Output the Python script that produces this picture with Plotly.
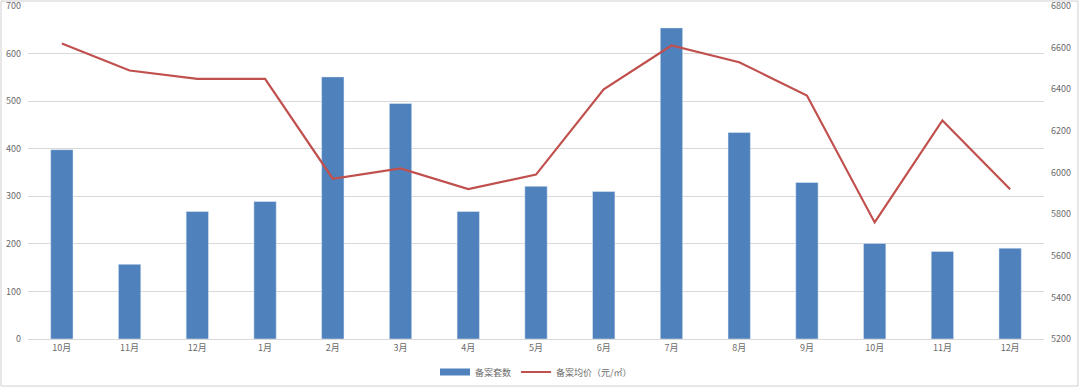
import plotly.graph_objects as go

months = ["10月", "11月", "12月", "1月", "2月", "3月", "4月", "5月", "6月", "7月", "8月", "9月", "10月", "11月", "12月"]
units = [398, 157, 268, 289, 551, 495, 268, 321, 310, 654, 434, 329, 201, 184, 191]
avg_price = [6620, 6490, 6450, 6450, 5970, 6020, 5920, 5990, 6400, 6610, 6530, 6370, 5760, 6250, 5920]

xs = list(range(len(months)))
font = dict(family="Noto Sans CJK SC, Liberation Sans, sans-serif", size=9, color="#6b6b6b")

fig = go.Figure()
fig.add_trace(go.Bar(x=xs, y=units, name="备案套数", marker_color="#4f81bd", width=0.33, showlegend=False))
fig.add_trace(go.Scatter(x=[None], y=[None], name="备案套数", mode="lines",
                         line=dict(color="#4f81bd", width=7)))
fig.add_trace(go.Scatter(x=xs, y=avg_price, name="备案均价（元/㎡）", yaxis="y2", mode="lines",
                         line=dict(color="#c0504d", width=2.2)))

W, H = 1080, 388
ml, mr, mt, mb = 28, 36, 6, 49
pw, ph = W - ml - mr, H - mt - mb

fig.update_layout(
    width=W, height=H,
    margin=dict(l=ml, r=mr, t=mt, b=mb, autoexpand=False),
    paper_bgcolor="white", plot_bgcolor="white",
    font=font,
    showlegend=True,
    legend=dict(orientation="h", x=0.5, xanchor="center", y=-33 / ph, yanchor="middle",
                font=dict(size=9, color="#6b6b6b"), traceorder="normal",
                bgcolor="rgba(0,0,0,0)", itemwidth=30, tracegroupgap=0),
    xaxis=dict(tickmode="array", tickvals=xs, ticktext=months, range=[-0.5, len(months) - 0.5],
               showgrid=False, showline=True, linecolor="#d9d9d9", ticks="", zeroline=False,
               automargin=False),
    yaxis=dict(range=[0, 700], dtick=100, showgrid=True, gridcolor="#d9d9d9", zeroline=False,
               ticks="", ticklabelstandoff=6, automargin=False, ticklabeloverflow="allow"),
    yaxis2=dict(range=[5200, 6800], dtick=200, overlaying="y", side="right", showgrid=False,
                zeroline=False, ticks="", ticklabelstandoff=6, automargin=False,
                ticklabeloverflow="allow"),
    shapes=[dict(type="rect", xref="paper", yref="paper",
                 x0=-(ml - 1) / pw, x1=1 + (mr - 2) / pw, y0=-(mb - 2) / ph, y1=1 + (mt - 1) / ph,
                 line=dict(color="#d0d0d0", width=1), fillcolor="rgba(0,0,0,0)", layer="below")],
)

fig.write_html("out.html", config={"displayModeBar": False},
               post_script="document.body.style.margin='0';document.body.style.overflow='hidden';")
